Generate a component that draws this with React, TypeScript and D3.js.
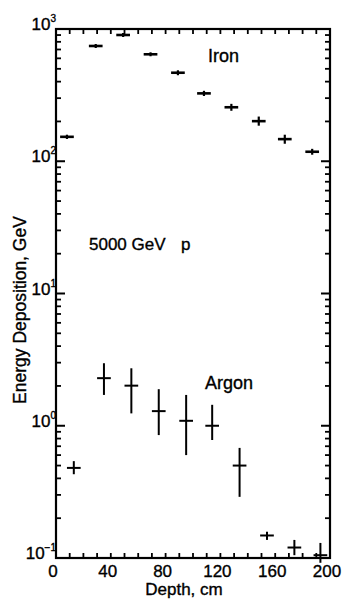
import React from "react";
import * as d3 from "d3";

// ---- data ----
const ironDepth = [8, 29, 49, 69, 89, 108, 128, 148, 167, 187];
const ironValue = [153, 744, 901, 644, 467, 326, 256, 201, 147, 118];
const ironLow = [150, 731, 885, 633, 455, 317, 245, 189, 138, 114];
const ironHigh = [156, 757, 917, 655, 479, 335, 267, 214, 156, 122];
const ironDepthErr = [5, 5, 5, 5, 5, 5, 5, 5, 5, 5];

const argonDepth = [13, 35, 55, 75, 95, 114, 134, 154, 174, 193];
const argonValue = [0.48, 2.29, 2.01, 1.29, 1.09, 1.0, 0.5, 0.148, 0.12, 0.105];
const argonLow = [0.43, 1.71, 1.24, 0.85, 0.6, 0.78, 0.29, 0.137, 0.105, 0.092];
const argonHigh = [0.54, 2.97, 2.72, 1.89, 1.71, 1.44, 0.68, 0.158, 0.137, 0.13];
const argonDepthErr = [5, 5, 5, 5, 5, 5, 5, 5, 5, 5];

const xTickLabels = [0, 40, 80, 120, 160, 200];
const yDecades = [0.1, 1, 10, 100, 1000];
const yDecadeSup = ["\u22121", "0", "1", "2", "3"];

const W = 343;
const H = 605;
const left = 56;
const right = 330;
const top = 29;
const bottom = 558;

const FONT = "'Liberation Sans', Arial, sans-serif";

export default function App() {
  const x = d3.scaleLinear().domain([0, 200]).range([left, right]);
  const y = d3.scaleLog().domain([0.1, 1000]).range([bottom, top]);

  const minorX = d3.range(0, 201, 10);
  const minorY: number[] = [];
  for (let e = -1; e < 3; e++) {
    for (let m = 2; m <= 9; m++) minorY.push(m * Math.pow(10, e));
  }

  const ironPts = ironDepth.map((d, i) => ({
    d, v: ironValue[i], lo: ironLow[i], hi: ironHigh[i], dx: ironDepthErr[i],
  }));
  const argonPts = argonDepth.map((d, i) => ({
    d, v: argonValue[i], lo: argonLow[i], hi: argonHigh[i], dx: argonDepthErr[i],
  }));

  const textStyle = { fontFamily: FONT, fill: "#000", stroke: "#000", strokeWidth: 0.35 };

  return (
    <svg
      width={W}
      height={H}
      style={{ position: "absolute", left: 0, top: 0, background: "#fff" }}
    >
      <rect x={0} y={0} width={W} height={H} fill="#fff" />
      {/* frame */}
      <rect
        x={left}
        y={top}
        width={right - left}
        height={bottom - top}
        fill="none"
        stroke="#000"
        strokeWidth={2.2}
      />
      {/* x ticks top and bottom */}
      {minorX.map((t) => (
        <g key={"xt" + t}>
          <line x1={x(t)} x2={x(t)} y1={bottom} y2={bottom - 5} stroke="#000" strokeWidth={1.8} />
          <line x1={x(t)} x2={x(t)} y1={top} y2={top + 5} stroke="#000" strokeWidth={1.8} />
        </g>
      ))}
      {/* y minor ticks */}
      {minorY.map((t) => (
        <g key={"ymt" + t}>
          <line x1={left} x2={left + 5} y1={y(t)} y2={y(t)} stroke="#000" strokeWidth={1.8} />
          <line x1={right} x2={right - 5} y1={y(t)} y2={y(t)} stroke="#000" strokeWidth={1.8} />
        </g>
      ))}
      {/* y major ticks */}
      {yDecades.map((t) => (
        <g key={"yMt" + t}>
          <line x1={left} x2={left + 9} y1={y(t)} y2={y(t)} stroke="#000" strokeWidth={2} />
          <line x1={right} x2={right - 9} y1={y(t)} y2={y(t)} stroke="#000" strokeWidth={2} />
        </g>
      ))}
      {/* y tick labels */}
      {yDecades.map((t, i) => (
        <text
          key={"yl" + t}
          x={56}
          y={y(t) + 1}
          textAnchor="end"
          fontSize={17}
          style={textStyle}
        >
          10
          <tspan dy={-8} fontSize={10}>
            {yDecadeSup[i]}
          </tspan>
        </text>
      ))}
      {/* x tick labels */}
      {xTickLabels.map((t) => (
        <text
          key={"xl" + t}
          x={x(t) - 3}
          y={577}
          textAnchor="middle"
          fontSize={17}
          style={textStyle}
        >
          {t}
        </text>
      ))}
      {/* axis titles */}
      <text x={184} y={595} textAnchor="middle" fontSize={17} style={textStyle}>
        Depth, cm
      </text>
      <text
        transform={`translate(26, 310) rotate(-90)`}
        textAnchor="middle"
        fontSize={17.5}
        style={textStyle}
      >
        Energy  Deposition, GeV
      </text>
      {/* annotations */}
      <text x={208} y={62} fontSize={18} style={textStyle}>
        Iron
      </text>
      <text x={89} y={250} fontSize={17} style={textStyle}>
        5000 GeV
      </text>
      <text x={181} y={250} fontSize={17} style={textStyle}>
        p
      </text>
      <text x={205} y={389} fontSize={18} style={textStyle}>
        Argon
      </text>
      {/* iron points */}
      {ironPts.map((p, i) => (
        <g key={"fe" + i} stroke="#000" strokeWidth={2.6}>
          <line x1={x(p.d - p.dx)} x2={x(p.d + p.dx)} y1={y(p.v)} y2={y(p.v)} />
          <line x1={x(p.d)} x2={x(p.d)} y1={y(p.lo) + 1} y2={y(p.hi) - 1} strokeWidth={2.2} />
        </g>
      ))}
      {/* argon points */}
      {argonPts.map((p, i) => (
        <g key={"ar" + i} stroke="#000" strokeWidth={2}>
          <line x1={x(p.d - p.dx)} x2={x(p.d + p.dx)} y1={y(p.v)} y2={y(p.v)} />
          <line x1={x(p.d)} x2={x(p.d)} y1={y(p.lo)} y2={y(p.hi)} />
        </g>
      ))}
    </svg>
  );
}
